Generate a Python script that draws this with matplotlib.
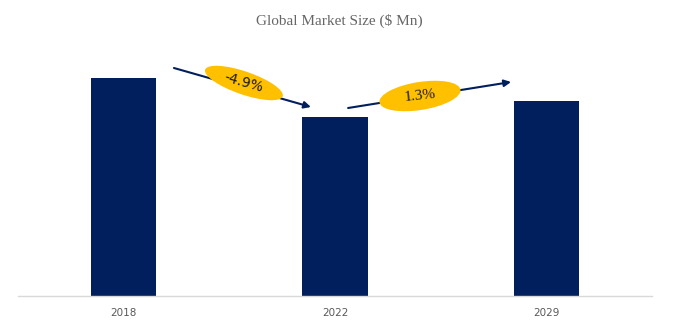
import matplotlib
matplotlib.use('Agg')
import matplotlib.pyplot as plt
import matplotlib.transforms as mtrans
from matplotlib.patches import Ellipse

years = ['2018', '2022', '2029']
market_size = [218, 179, 195]
cagr_labels = ['-4.9%', '1.3%']

navy = '#001F5C'
gold = '#FFC000'

fig = plt.figure(figsize=(6.78, 3.22), dpi=100)
ax = fig.add_axes([18 / 678, 26 / 322, 634 / 678, 250 / 322])
x = range(len(years))
ax.bar(x, market_size, width=0.31, color=navy, zorder=2)
ax.set_xlim(-0.5, 2.5)
ax.set_ylim(0, 250)

for s in ['top', 'right', 'left']:
    ax.spines[s].set_visible(False)
ax.spines['bottom'].set_color('#D9D9D9')
ax.spines['bottom'].set_linewidth(1)
ax.set_yticks([])
ax.set_xticks(list(x))
ax.set_xticklabels(years, fontsize=7.5, color='#595959',
                   family=['Liberation Sans Narrow', 'DejaVu Sans'])
ax.tick_params(axis='x', length=0, pad=9)

fig.text(0.5, 0.935, 'Global Market Size ($ Mn)', ha='center', va='center',
         fontsize=11, color='#666666', family='Liberation Serif')

# growth arrows between bars
arrows = [((0.238, 228), (0.886, 189)), ((1.062, 188), (1.833, 214))]
for (x0, y0), (x1, y1) in arrows:
    ax.annotate('', xy=(x1, y1), xytext=(x0, y0),
                arrowprops=dict(arrowstyle='-|>', color=navy, lw=1.5,
                                mutation_scale=10, shrinkA=0, shrinkB=0),
                zorder=3)

# ellipses sized in inches, placed at data points
bubbles = [(0.569, 213, 0.82, 0.23, -19, 'DejaVu Sans', -16),
           (1.402, 200, 0.82, 0.28, 9, 'Liberation Serif', 6)]
for (cx, cy, w, h, ang, fam, rot), label in zip(bubbles, cagr_labels):
    tr = fig.dpi_scale_trans + mtrans.ScaledTranslation(cx, cy, ax.transData)
    ax.add_patch(Ellipse((0, 0), w, h, angle=ang, transform=tr,
                         facecolor=gold, edgecolor='none', zorder=4,
                         clip_on=False))
    ax.text(cx, cy, label, ha='center', va='center', rotation=rot,
            fontsize=10 if fam == 'DejaVu Sans' else 11, family=fam,
            color='#1a1a1a', zorder=5)

fig.savefig('out.png', dpi=100)
